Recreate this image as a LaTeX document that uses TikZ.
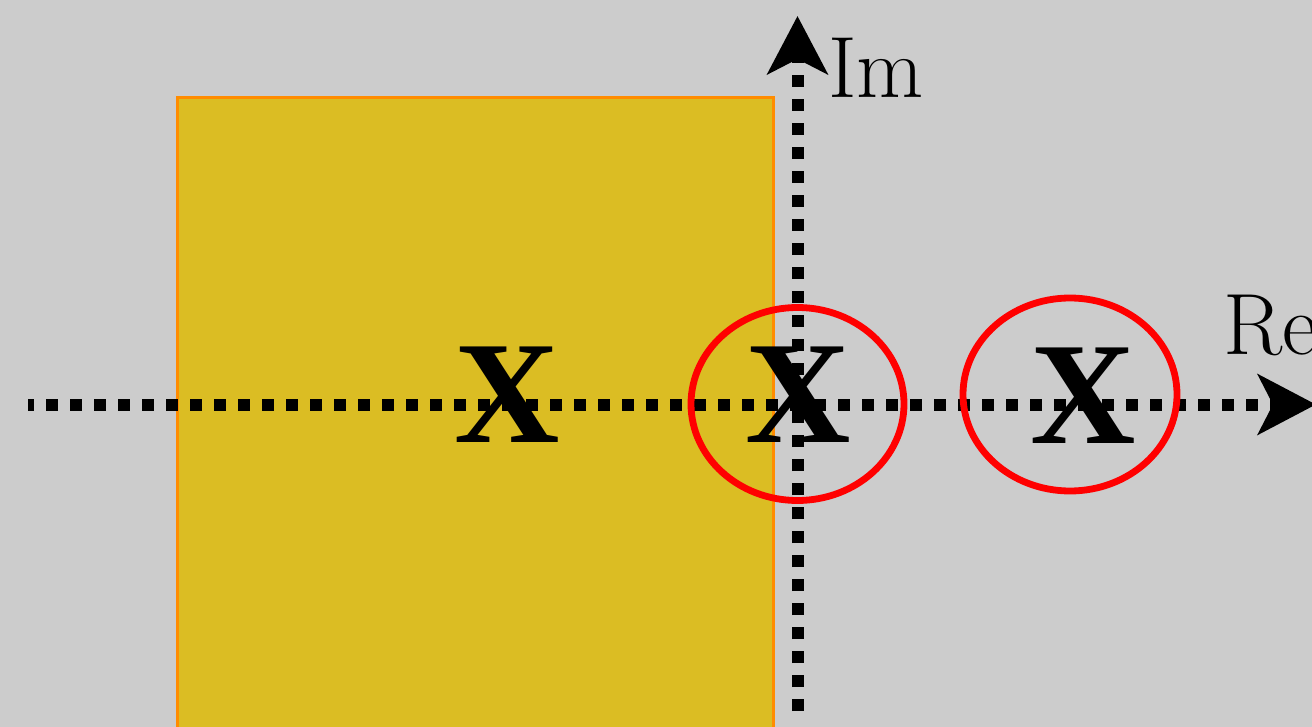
\documentclass[tikz,border=0pt]{standalone}
\usepackage{fontspec}
\newfontfamily\xfont{Liberation Serif}
\usetikzlibrary{arrows.meta,shapes.geometric}
\definecolor{bg}{RGB}{204,204,204}
\definecolor{regionfill}{RGB}{219,189,35}
\definecolor{regionedge}{RGB}{255,140,0}
\definecolor{circred}{RGB}{255,0,0}
\begin{document}
\begin{tikzpicture}[x=0.5pt,y=-0.5pt,
  axis/.style={line width=6pt,dash pattern=on 6pt off 6pt,
    -{Stealth[length=29pt,width=30pt,inset=7.5pt]}},
  polemark/.style={inner sep=0pt,anchor=base,font=\xfont\bfseries\fontsize{73}{73}\selectfont},
  axislabel/.style={inner sep=0pt,anchor=base west,font=\fontsize{43.5}{43.5}\selectfont},
  ring/.style={ellipse,draw=circred,line width=3.4pt,inner sep=0pt}]
\fill[bg] (0,0) rectangle (1312,727);
\useasboundingbox (0,0) rectangle (1312,727);
\filldraw[fill=regionfill,draw=regionedge,line width=1.5pt] (177,98) rectangle (773,740);
\coordinate (xstart) at (28,404.5);
\coordinate (xend) at (1316,404.5);
\coordinate (ystart) at (797.5,711);
\coordinate (yend) at (797.5,16);
\draw[axis,dash phase=3pt] (xstart) -- (xend);
\draw[axis] (ystart) -- (yend);
\node[axislabel] (im) at (828,98) {Im};
\node[axislabel] (re) at (1223,355) {Re};
\node[polemark] (p1) at (507,442) {X};
\node[polemark] (p2) at (798,442) {X};
\node[polemark] (p3) at (1083,443) {X};
\node[ring,minimum width=106.5pt,minimum height=96.5pt] (r1) at (797.5,404) {};
\node[ring,minimum width=107pt,minimum height=96.5pt] (r2) at (1070,394.5) {};
\end{tikzpicture}
\end{document}
